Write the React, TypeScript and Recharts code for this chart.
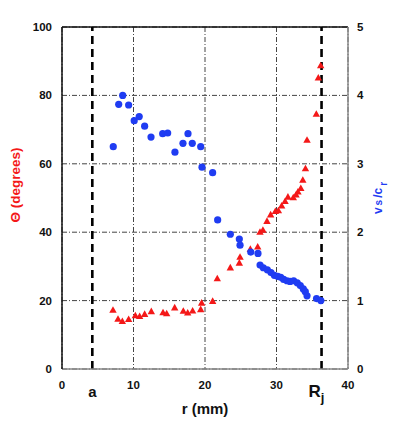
import React from "react";
import {
  ComposedChart,
  Scatter,
  XAxis,
  YAxis,
  CartesianGrid,
  ReferenceLine,
  Label,
} from "recharts";

// Θ (degrees) vs r (mm) — red triangles, left axis
const thetaR = [
  7.13, 7.83, 8.44, 9.32, 10.26, 10.86, 11.56, 12.49, 14.13, 14.64, 15.76, 16.97,
  17.58, 18.27, 19.4, 19.53, 21.07, 21.72, 23.54, 24.8, 24.9, 26.34, 27.37, 27.69,
  28.1, 28.67, 29.18, 29.84, 30.26, 30.72, 31.2, 31.6, 32.35, 32.73, 33.0, 33.4,
  33.68, 34.05, 34.27, 35.57, 35.85, 36.18,
];
const thetaVals = [
  17.3, 14.7, 14.0, 14.6, 15.7, 15.5, 16.1, 16.9, 16.6, 16.3, 18.0, 17.0,
  16.5, 17.1, 17.5, 19.4, 19.9, 26.5, 29.7, 31.1, 32.8, 35.1, 35.8, 40.1,
  40.7, 43.3, 45.2, 46.2, 46.4, 47.8, 49.1, 50.4, 50.2, 51.0, 51.9, 52.9,
  55.3, 58.7, 67.0, 74.6, 85.2, 88.8,
];

// v_s / c_r vs r (mm) — blue circles, right axis
const vR = [
  7.17, 7.93, 8.49, 9.32, 10.1, 10.8, 11.56, 12.45, 14.08, 14.78, 15.8, 16.92,
  17.62, 18.22, 19.4, 19.58, 21.07, 21.77, 23.54, 24.8, 24.9, 26.4, 27.41, 27.7,
  28.16, 28.72, 29.23, 29.7, 30.17, 30.59, 31.0, 31.47, 31.89, 32.4, 32.9, 33.33,
  33.75, 34.03, 34.27, 35.6, 36.2,
];
const vVals = [
  3.25, 3.87, 4.0, 3.86, 3.63, 3.69, 3.55, 3.39, 3.44, 3.45, 3.17, 3.3,
  3.44, 3.3, 3.25, 2.95, 2.87, 2.18, 1.97, 1.9, 1.81, 1.71, 1.69, 1.52,
  1.48, 1.45, 1.41, 1.37, 1.355, 1.34, 1.31, 1.29, 1.28, 1.29, 1.26, 1.22,
  1.17, 1.13, 1.07, 1.03, 1.0,
];

const xTicks = [0, 10, 20, 30, 40];
const leftTicks = [0, 20, 40, 60, 80, 100];
const rightTicks = [0, 1, 2, 3, 4, 5];
const rA = 4.24; // "a"
const rJ = 36.3; // "Rj"

const thetaData = thetaR.map((r, i) => ({ r, v: thetaVals[i] }));
const vData = vR.map((r, i) => ({ r, v: vVals[i] }));

const RED = "#f41818";
const BLUE = "#1f3cf2";
const FONT = "'Liberation Sans', Arial, sans-serif";

const Triangle = (p: any) => {
  const { cx, cy } = p;
  if (cx == null || cy == null) return null;
  const w = 3.7;
  return (
    <polygon
      points={`${cx - w},${cy + 3} ${cx + w},${cy + 3} ${cx},${cy - 3.6}`}
      fill={RED}
    />
  );
};

const Dot = (p: any) => {
  const { cx, cy } = p;
  if (cx == null || cy == null) return null;
  return <circle cx={cx} cy={cy} r={3.6} fill={BLUE} />;
};

const XTick = (p: any) => (
  <text
    x={p.x}
    y={p.y + 8}
    textAnchor="middle"
    dominantBaseline="central"
    fontFamily={FONT}
    fontWeight="bold"
    fontSize={11.5}
    fill="#111"
  >
    {p.payload.value}
  </text>
);

const LTick = (p: any) => (
  <text
    x={p.x - 2}
    y={p.y}
    textAnchor="end"
    dominantBaseline="central"
    fontFamily={FONT}
    fontWeight="bold"
    fontSize={11.5}
    fill="#111"
  >
    {p.payload.value}
  </text>
);

const RTick = (p: any) => (
  <text
    x={p.x + 1}
    y={p.y}
    textAnchor="start"
    dominantBaseline="central"
    fontFamily={FONT}
    fontWeight="bold"
    fontSize={11.5}
    fill="#111"
  >
    {p.payload.value}
  </text>
);

export default function App() {
  return (
    <ComposedChart
      width={383}
      height={413}
      margin={{ top: 19, right: 0, bottom: 0, left: 0 }}
      style={{ fontFamily: FONT }}
    >
      <CartesianGrid
        yAxisId="l"
        stroke="#444"
        strokeWidth={1}
        strokeDasharray="5 2 1 2"
      />
      <XAxis
        dataKey="r"
        type="number"
        domain={[0, 40]}
        ticks={xTicks}
        height={52}
        axisLine={{ stroke: "#888", strokeWidth: 1.5 }}
        tickLine={false}
        tick={<XTick />}
        allowDuplicatedCategory={false}
      >
        <Label
          content={(props: any) => {
            const vb = props.viewBox;
            return (
              <text
                x={vb.x + vb.width / 2}
                y={vb.y + 39}
                textAnchor="middle"
                dominantBaseline="central"
                fontFamily={FONT}
                fontWeight="bold"
                fontSize={15}
                fill="#111"
              >
                r (mm)
              </text>
            );
          }}
        />
      </XAxis>
      <YAxis
        yAxisId="l"
        type="number"
        domain={[0, 100]}
        ticks={leftTicks}
        width={54}
        axisLine={{ stroke: "#111", strokeWidth: 1.5 }}
        tickLine={false}
        tick={<LTick />}
      >
        <Label
          content={(props: any) => {
            const vb = props.viewBox;
            const cy = vb.y + vb.height / 2 - 13;
            return (
              <text
                x={7}
                y={cy}
                transform={`rotate(-90 7 ${cy})`}
                textAnchor="middle"
                dominantBaseline="central"
                fontFamily={FONT}
                fontWeight="bold"
                fontSize={13.5}
                fill={RED}
              >
                Θ (degrees)
              </text>
            );
          }}
        />
      </YAxis>
      <YAxis
        yAxisId="r"
        orientation="right"
        type="number"
        domain={[0, 5]}
        ticks={rightTicks}
        width={43}
        axisLine={{ stroke: "#888", strokeWidth: 1.5 }}
        tickLine={false}
        tick={<RTick />}
      >
        <Label
          content={(props: any) => {
            const vb = props.viewBox;
            const cx = vb.x + 30;
            const cy = vb.y + vb.height / 2;
            return (
              <text
                x={cx}
                y={cy}
                transform={`rotate(-90 ${cx} ${cy})`}
                textAnchor="middle"
                dominantBaseline="central"
                fontFamily={FONT}
                fontWeight="bold"
                fontSize={12}
                fill={BLUE}
              >
                v
                <tspan fontSize={10} dx={2}>
                  s
                </tspan>
                <tspan dx={2}>/c</tspan>
                <tspan fontSize={10} dy={5} dx={2}>
                  r
                </tspan>
              </text>
            );
          }}
        />
      </YAxis>
      <ReferenceLine yAxisId="l" y={100} stroke="#111" strokeWidth={1.5} />
      <ReferenceLine
        yAxisId="l"
        x={rA}
        stroke="#000"
        strokeWidth={2.6}
        strokeDasharray="8 5"
        label={(props: any) => {
          const vb = props.viewBox;
          return (
            <text
              x={vb.x}
              y={vb.y + vb.height + 22}
              textAnchor="middle"
              dominantBaseline="central"
              fontFamily={FONT}
              fontWeight="bold"
              fontSize={15}
              fill="#111"
            >
              a
            </text>
          );
        }}
      />
      <ReferenceLine
        yAxisId="l"
        x={rJ}
        stroke="#000"
        strokeWidth={2.6}
        strokeDasharray="8 5"
        label={(props: any) => {
          const vb = props.viewBox;
          return (
            <text
              x={vb.x - 5}
              y={vb.y + vb.height + 22}
              textAnchor="middle"
              dominantBaseline="central"
              fontFamily={FONT}
              fontWeight="bold"
              fontSize={17}
              fill="#111"
            >
              R
              <tspan fontSize={13} dy={6}>
                j
              </tspan>
            </text>
          );
        }}
      />
      <Scatter
        yAxisId="l"
        data={thetaData}
        dataKey="v"
        shape={<Triangle />}
        isAnimationActive={false}
      />
      <Scatter
        yAxisId="r"
        data={vData}
        dataKey="v"
        shape={<Dot />}
        isAnimationActive={false}
      />
    </ComposedChart>
  );
}
